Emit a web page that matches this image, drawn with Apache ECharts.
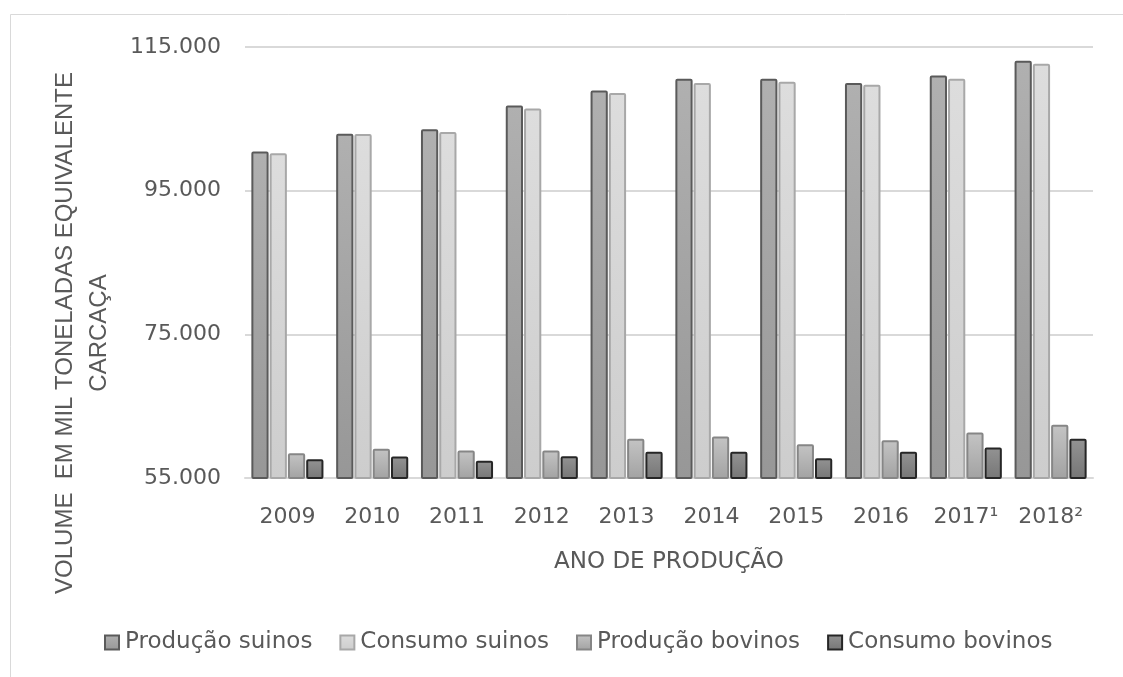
<!DOCTYPE html>
<html>
<head>
<meta charset="utf-8">
<script src="https://cdn.jsdelivr.net/npm/echarts@6/dist/echarts.min.js"></script>
<style>
    html, body { margin: 0; padding: 0; background: #fff; }
    #box { width: 1123px; height: 677px; }
</style>
</head>
<body>
<div id="box"></div>
<script>
// dados (mil toneladas equivalente carcaça)
const anos = ['2009', '2010', '2011', '2012', '2013', '2014', '2015', '2016', '2017¹', '2018²'];
const producaoSuinos = [100440, 102910, 103560, 106850, 108950, 110580, 110580, 109980, 111040, 113090];
const consumoSuinos = [100220, 102900, 103150, 106440, 108580, 109980, 110160, 109740, 110580, 112670];
const producaoBovinos = [58460, 59070, 58840, 58840, 60470, 60790, 59710, 60270, 61350, 62420];
const consumoBovinos = [57620, 58000, 57400, 58040, 58650, 58650, 57760, 58650, 59250, 60470];
const yTicks = [55000, 75000, 95000, 115000];

const txt = '#595959';

function grad(top, bottom) {
    return {
        type: 'linear', x: 0, y: 0, x2: 0, y2: 1,
        colorStops: [{ offset: 0, color: top }, { offset: 1, color: bottom }]
    };
}

function serie(name, data, fill, border) {
    return {
        name: name,
        type: 'bar',
        data: data,
        barGap: '6%',
        barCategoryGap: '15%',
        itemStyle: {
            color: fill,
            borderColor: border,
            borderWidth: 2,
            borderRadius: 1
        }
    };
}

var option = {
    animation: false,
    backgroundColor: '#fff',
    textStyle: { fontFamily: 'DejaVu Sans' },
    graphic: [
        {
            type: 'rect',
            shape: { x: 10.5, y: 14.5, width: 1200, height: 700 },
            style: { fill: 'none', stroke: '#d9d9d9', lineWidth: 1 },
            silent: true
        },
        {
            // título do eixo Y (fica deslocado para baixo no original)
            type: 'text',
            x: 82,
            y: 333,
            rotation: Math.PI / 2,
            style: {
                text: 'VOLUME  EM MIL TONELADAS EQUIVALENTE\nCARCAÇA',
                fill: txt,
                font: '24px "Liberation Sans"',
                lineHeight: 34,
                align: 'center',
                verticalAlign: 'middle'
            },
            silent: true
        }
    ],
    grid: { left: 245, right: 30, top: 47, bottom: 199 },
    legend: {
        left: 99,
        top: 626,
        itemWidth: 14,
        itemHeight: 14,
        itemGap: 27,
        icon: 'rect',
        textStyle: { color: txt, fontSize: 23, fontFamily: 'DejaVu Sans', padding: [0, 0, 0, 1] },
        data: ['Produção suinos', 'Consumo suinos', 'Produção bovinos', 'Consumo bovinos']
    },
    xAxis: {
        type: 'category',
        data: anos,
        name: 'ANO DE PRODUÇÃO',
        nameLocation: 'middle',
        nameGap: 73,
        nameTextStyle: { color: txt, fontSize: 23 },
        axisLine: { lineStyle: { color: '#d9d9d9', width: 2 } },
        axisTick: { show: false },
        axisLabel: { color: txt, fontSize: 22, margin: 28 }
    },
    yAxis: {
        type: 'value',
        min: yTicks[0],
        max: yTicks[yTicks.length - 1],
        interval: 20000,
        axisLine: { show: false },
        axisTick: { show: false },
        splitLine: { lineStyle: { color: '#d9d9d9', width: 2 } },
        axisLabel: {
            color: txt, fontSize: 22, margin: 24,
            formatter: function (v) { return v.toLocaleString('de-DE'); }
        }
    },
    series: [
        serie('Produção suinos', producaoSuinos, grad('#b0b0b0', '#979797'), '#5a5a5a'),
        serie('Consumo suinos', consumoSuinos, grad('#dddddd', '#cdcdcd'), '#a8a8a8'),
        serie('Produção bovinos', producaoBovinos, grad('#c4c4c4', '#a2a2a2'), '#868686'),
        serie('Consumo bovinos', consumoBovinos, grad('#939393', '#767676'), '#262626')
    ]
};

var myChart = echarts.init(document.getElementById('box'));
option && myChart.setOption(option);
</script>
</body>
</html>
